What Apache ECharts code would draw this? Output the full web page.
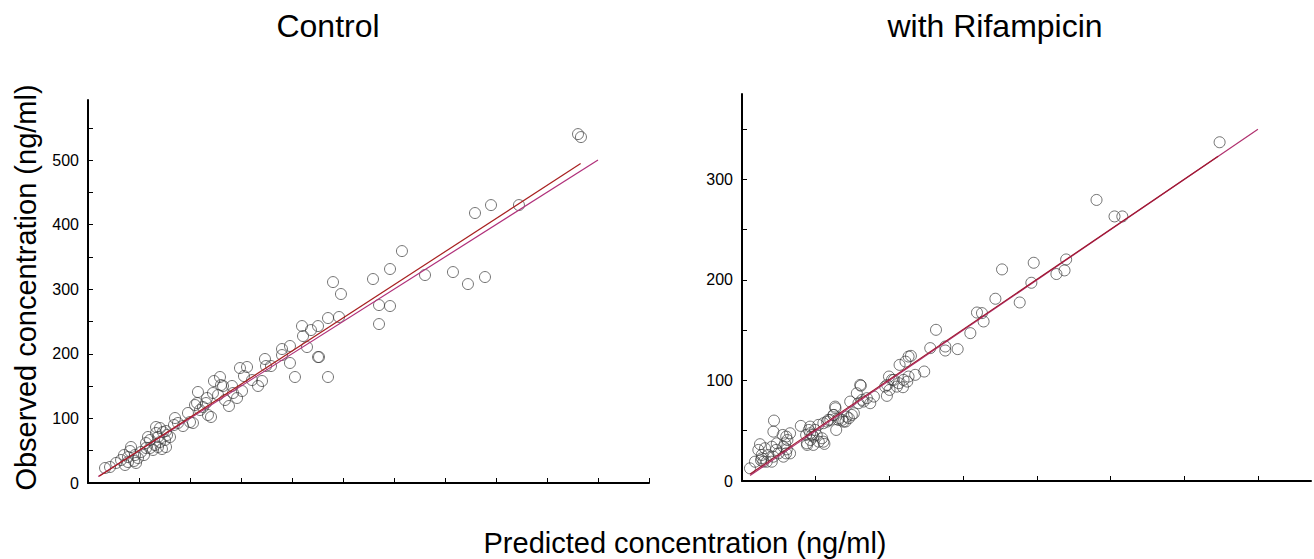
<!DOCTYPE html>
<html>
<head>
<meta charset="utf-8">
<script src="https://cdn.jsdelivr.net/npm/echarts@6/dist/echarts.min.js"></script>
<style>
html,body{margin:0;padding:0;background:#fff;}
#chart{width:1314px;height:559px;}
</style>
</head>
<body>
<div id="chart"></div>
<script>
// ---- Control panel data (ng/ml) ----
const controlPredicted = [16.7,21.6,27.5,32.4,36.3,39.2,42.2,45.1,46.1,49,47.1,52,54.9,56.9,56.9,58.8,60.8,63.7,65.7,66.7,66.7,68.6,70.6,68.6,73.5,75.5,76.5,72.5,77.5,85.3,84.3,88.2,93.1,98,100,102.9,104.9,107.8,106.9,109.8,112.7,116.7,117.6,120.6,123.5,122.5,127.5,129.4,130.4,132.4,134.3,138.2,141.2,142.2,146.1,149,151,152.9,155.9,160.8,166.7,170.6,173.5,174.5,179.4,190.2,190.2,198,198,202.9,209.8,210.8,214.7,218.6,225.5,225.5,226.5,235.3,235.3,246.1,240.2,248,279.4,285.3,285.3,296.1,296.1,307.8,330.4,357.8,372.5,389.2,379.4,395.1,422.5,480.4,483.3,60.8,80.4,70.6,76.5,35.3,41.2,39.2,115.7];
const controlObserved = [23.2,24.8,31,35.6,27.9,40.2,55.7,34.1,43.3,38.7,31,48,43.3,54.2,61.9,71.2,54.2,51.1,58.8,77.4,86.7,71.2,63.5,55.7,78.9,66.6,55.7,52.6,74.3,100.6,89.8,92.9,88.2,108.4,94.4,92.9,120.7,140.9,123.8,113,117.6,131.6,105.3,102.2,157.9,139.3,136.2,164.1,151.7,150.2,128.5,119.2,150.2,139.3,131.6,178,142.4,165.6,179.6,159.4,150.2,157.9,192,181.1,181.1,207.4,198.1,212.1,185.8,164.1,243,227.6,210.5,236.8,243,195,195,164.1,255.4,257,311.1,292.6,315.8,275.5,246.1,274,331.3,359.1,322,326.6,308,318.9,418,430.3,430.3,540.2,535.6,66.6,71.2,85.1,80.5,43.3,49.5,32.5,123.8];
const controlFitX = [11, 483];
const controlFitY = [10.5, 494.5];
const controlIdentity = [10, 500];

// ---- with Rifampicin panel data (ng/ml) ----
const rifPredicted = [324,240.5,252.7,258,176.4,197.9,219.9,218.8,213.3,196.3,171.9,188.4,162.8,163.9,159.4,154.9,131.6,127.7,137.9,137.9,146.3,123.6,117.5,113,114.6,106.9,109.6,113,105.1,109.2,100.1,101.7,97.1,98.3,80.2,80.6,77.9,84.7,87,79,82.4,73.4,74.5,71.1,68.8,63.2,62,65.4,63.9,58.6,55.2,51.8,55.2,55.9,50.7,46.2,46.2,48.4,49.6,43.5,44,48.4,39.9,32.6,30,30.8,29.2,28.1,30.4,29.9,28.1,32.6,27.6,21.7,21.3,23.6,23.1,24.7,20.2,17.9,21.3,20.2,12.2,13.4,13.4,14.5,12.9,16.8,8.8,5.4,11.1,45.3,47.6,46.4,52.1,54.3,44.2,57.7,59.9,62.3,63.4,65.7,67.9,70.2,72.5,75.9,81.5,89.5,98.5,99.7,103,106.4,112.1,110.9,15.6];
const rifObserved = [337,279.6,263.2,263.2,210.5,217.1,220.4,209.5,205.9,197.2,181.3,177.6,167,158.7,167.6,147.1,150.4,132.2,133.8,129.8,131.2,108.9,105.6,123.8,124.5,115.5,100.6,103.9,93.9,93.3,90.6,100.6,93.9,84.7,95.6,94.8,87.3,82.4,77.4,77.4,79,79,65.7,64,59.1,74,65.7,60.8,50.8,60.8,57.5,55.8,39.1,36.9,45.8,54.1,47.5,44.2,50.8,45.8,37.5,35.9,54.8,47.5,44.2,40.8,37.5,34.1,31.5,27.5,24.2,27.5,45.8,60.1,49.1,37.5,30.9,27.5,34.1,25.9,24.2,19.2,36.6,25.9,22.6,19.2,20.6,19.2,19.2,12.6,30.9,50.8,45.8,40.8,39.1,42.5,35.9,59.1,60.8,65.7,72.4,62.5,60.8,59.1,62.5,67.4,80.7,84,95.6,103.9,100.6,97.3,98.9,118.8,32.6];
const rifFitX = [5.5, 323];
const rifFitY = [7, 323];
const rifIdentity = [5.5, 350];

// ---- axis ticks / labels ----
const controlXTicks = [0,50,100,150,200,250,300,350,400,450,500,550];
const controlYTicks = [0,50,100,150,200,250,300,350,400,450,500,550];
const controlYLabels = [0,100,200,300,400,500];
const rifXTicks = [0,50,100,150,200,250,300,350];
const rifYTicks = [0,50,100,150,200,250,300,350];
const rifYLabels = [0,100,200,300];

const panelTitles = ['Control', 'with Rifampicin'];
const yName = 'Observed concentration (ng/ml)';
const xName = 'Predicted concentration (ng/ml)';

const FONT = '"Liberation Sans", Arial, sans-serif';
const pairs = (xs, ys) => xs.map((x, i) => [x, ys[i]]);

function xAxisOf(idx, max, ticks) {
  return {
    gridIndex: idx, type: 'value', min: 0, max: max,
    axisLine: {show: true, onZero: false, lineStyle: {color: '#000', width: 2}},
    axisTick: {show: true, inside: true, length: 5, customValues: ticks, lineStyle: {color: '#000', width: 1}},
    axisLabel: {show: false},
    splitLine: {show: false}
  };
}
function yAxisOf(idx, max, ticks, labels, name) {
  return {
    gridIndex: idx, type: 'value', min: 0, max: max,
    name: name || '', nameLocation: 'middle', nameGap: 48,
    nameTextStyle: {fontFamily: FONT, fontSize: 29, color: '#000', padding: [0, 0, 0, 8]},
    axisLine: {show: true, onZero: false, lineStyle: {color: '#000', width: 2}},
    axisTick: {show: true, inside: true, length: 5, customValues: ticks, lineStyle: {color: '#000', width: 1}},
    axisLabel: {show: true, customValues: labels, margin: 9, fontFamily: FONT, fontSize: 16, color: '#000'},
    splitLine: {show: false}
  };
}
function scatterOf(idx, xs, ys) {
  return {
    type: 'scatter', xAxisIndex: idx, yAxisIndex: idx,
    data: pairs(xs, ys), symbol: 'circle', symbolSize: 11,
    itemStyle: {color: 'rgba(255,255,255,0)', borderColor: '#3c3c3c', borderWidth: 0.9},
    z: 2, silent: true
  };
}
function lineOf(idx, xs, ys, color) {
  return {
    type: 'line', xAxisIndex: idx, yAxisIndex: idx,
    data: pairs(xs, ys), showSymbol: false, symbol: 'none',
    lineStyle: {color: color, width: 1.2}, z: 3, silent: true
  };
}

const chart = echarts.init(document.getElementById('chart'), null, {renderer: 'svg'});
chart.setOption({
  backgroundColor: '#fff',
  animation: false,
  title: [
    {text: panelTitles[0], left: 323, top: 5, textAlign: 'center',
     textStyle: {fontFamily: FONT, fontSize: 32, fontWeight: 'normal', color: '#000'}},
    {text: panelTitles[1], left: 990, top: 5, textAlign: 'center',
     textStyle: {fontFamily: FONT, fontSize: 32, fontWeight: 'normal', color: '#000'}}
  ],
  grid: [
    {left: 88, top: 100, width: 561, height: 383, containLabel: false},
    {left: 742, top: 94, width: 569, height: 387, containLabel: false}
  ],
  xAxis: [xAxisOf(0, 550, controlXTicks), xAxisOf(1, 386, rifXTicks)],
  yAxis: [yAxisOf(0, 593, controlYTicks, controlYLabels, yName), yAxisOf(1, 385, rifYTicks, rifYLabels, '')],
  graphic: [
    {type: 'text', x: 685, y: 543,
     style: {text: xName, font: '29px "Liberation Sans", Arial, sans-serif', fill: '#000', textAlign: 'center', textVerticalAlign: 'middle'}}
  ],
  series: [
    scatterOf(0, controlPredicted, controlObserved),
    lineOf(0, controlIdentity, controlIdentity, '#b0307a'),
    lineOf(0, controlFitX, controlFitY, '#a82020'),
    scatterOf(1, rifPredicted, rifObserved),
    lineOf(1, rifIdentity, rifIdentity, '#b0306e'),
    lineOf(1, rifFitX, rifFitY, '#a01a30')
  ]
});
</script>
</body>
</html>
